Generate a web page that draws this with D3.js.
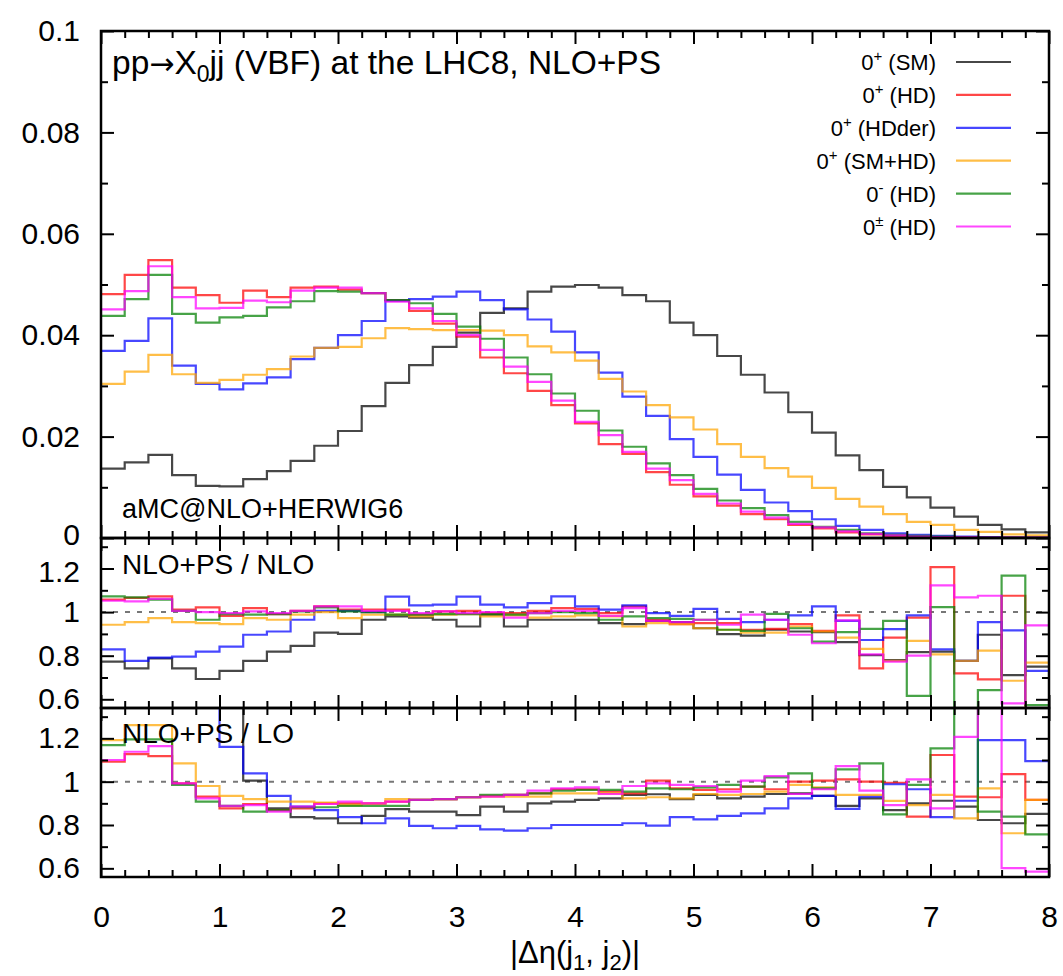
<!DOCTYPE html>
<html>
<head>
<meta charset="utf-8">
<script src="https://cdn.jsdelivr.net/npm/d3@7"></script>
<style>
  body { margin: 0; background: #fff; }
  text { font-family: "Liberation Sans", Arial, Helvetica, sans-serif; fill: #000; }
</style>
</head>
<body>
<div id="chart-area"></div>
<script>
// 40 bins of width 0.2 in |Δη(j1,j2)|
const binLow = d3.range(40).map(i => i * 0.2);

// normalised distributions (top panel)
const smDist    = [0.0137,0.0149,0.0164,0.0124,0.0103,0.0102,0.0116,0.0132,0.0152,0.0182,0.0211,0.0260,0.0306,0.0341,0.0377,0.0405,0.0444,0.0453,0.0486,0.0496,
                   0.0499,0.0494,0.0479,0.0467,0.0425,0.0400,0.0359,0.0322,0.0287,0.0248,0.0208,0.0163,0.0134,0.0101,0.0080,0.0060,0.0042,0.0026,0.0017,0.0011];
const hdDist    = [0.0481,0.0519,0.0548,0.0494,0.0479,0.0464,0.0488,0.0475,0.0494,0.0496,0.0490,0.0483,0.0469,0.0448,0.0423,0.0397,0.0356,0.0325,0.0290,0.0262,
                   0.0226,0.0185,0.0166,0.0130,0.0105,0.0082,0.0064,0.0047,0.0037,0.0026,0.0019,0.0011,0.0007,0.0004,0.0003,0.0002,0.0001,0.0001,0.0001,0.0001];
const hdderDist = [0.0369,0.0389,0.0433,0.0340,0.0304,0.0293,0.0305,0.0317,0.0353,0.0375,0.0400,0.0428,0.0468,0.0471,0.0476,0.0486,0.0469,0.0451,0.0431,0.0407,
                   0.0366,0.0326,0.0279,0.0241,0.0195,0.0160,0.0125,0.0095,0.0070,0.0053,0.0037,0.0024,0.0016,0.0009,0.0006,0.0004,0.0003,0.0002,0.0001,0.0001];
const smhdDist  = [0.0304,0.0328,0.0361,0.0323,0.0306,0.0312,0.0322,0.0333,0.0358,0.0375,0.0377,0.0394,0.0414,0.0412,0.0410,0.0410,0.0409,0.0400,0.0378,0.0366,
                   0.0350,0.0314,0.0289,0.0262,0.0238,0.0214,0.0185,0.0160,0.0138,0.0121,0.0099,0.0077,0.0062,0.0047,0.0032,0.0026,0.0016,0.0012,0.0007,0.0005];
const minusDist = [0.0438,0.0471,0.0519,0.0442,0.0425,0.0435,0.0438,0.0455,0.0467,0.0487,0.0486,0.0483,0.0469,0.0463,0.0442,0.0417,0.0393,0.0356,0.0323,0.0285,
                   0.0251,0.0212,0.0180,0.0147,0.0124,0.0097,0.0074,0.0059,0.0045,0.0032,0.0022,0.0016,0.0009,0.0006,0.0004,0.0003,0.0002,0.0001,0.0001,0.0001];
const mixDist   = [0.0451,0.0487,0.0536,0.0475,0.0453,0.0454,0.0468,0.0465,0.0488,0.0494,0.0494,0.0483,0.0466,0.0453,0.0428,0.0400,0.0371,0.0338,0.0308,0.0271,
                   0.0229,0.0203,0.0170,0.0137,0.0114,0.0087,0.0068,0.0052,0.0040,0.0028,0.0021,0.0013,0.0008,0.0005,0.0003,0.0002,0.0002,0.0001,0.0001,0.0001];

// NLO+PS / NLO (middle panel)
const smNLO    = [0.773,0.742,0.788,0.742,0.693,0.730,0.776,0.819,0.845,0.906,0.900,0.965,0.980,0.975,0.965,0.934,0.988,0.934,0.965,0.965,
                  0.965,0.949,0.945,0.960,0.954,0.926,0.899,0.892,0.919,0.911,0.908,0.862,0.803,0.780,0.816,0.819,0.776,0.896,0.711,0.750];
const hdNLO    = [1.057,1.065,1.072,1.011,1.022,0.983,1.018,0.991,1.006,1.026,1.011,1.011,1.011,0.988,1.003,1.006,0.995,0.995,1.006,1.018,
                  1.015,0.995,1.026,0.965,0.945,0.949,0.949,0.919,0.923,0.945,0.914,0.985,0.742,0.883,0.975,1.206,0.719,0.691,1.075,0.500];
const hdderNLO = [0.829,0.776,0.791,0.796,0.819,0.842,0.896,0.911,0.965,1.006,1.006,1.000,1.071,1.031,1.034,1.071,1.034,1.022,1.041,1.072,
                  1.026,1.011,1.031,0.995,0.983,1.015,0.969,0.954,0.965,0.985,1.026,0.960,0.872,0.922,0.985,0.829,0.776,0.954,0.916,0.730];
const smhdNLO  = [0.942,0.954,0.972,0.954,0.949,0.945,0.972,0.965,0.988,1.000,0.972,0.988,0.988,0.980,0.988,0.991,0.980,0.985,0.975,0.980,
                  0.985,0.980,0.934,0.949,0.945,0.926,0.919,0.906,0.906,0.934,0.911,0.883,0.831,0.776,0.868,0.806,0.776,0.823,0.685,0.768];
const minusNLO = [1.072,1.068,1.057,1.006,0.965,0.991,0.988,0.991,1.003,1.022,1.003,1.000,0.988,0.988,0.991,0.991,0.991,0.988,0.995,1.000,
                  0.995,0.965,0.980,0.972,0.969,0.965,0.919,0.914,0.992,0.926,0.865,0.908,0.923,0.960,0.616,1.023,0.500,0.642,1.167,0.573];
const mixNLO   = [1.052,1.049,1.061,1.006,1.000,0.995,1.003,0.995,1.006,1.026,1.026,1.006,1.006,0.995,1.003,0.995,1.000,0.975,0.995,1.006,
                  1.006,0.983,1.018,0.960,0.954,0.965,0.942,0.988,0.965,0.896,0.857,0.962,0.806,0.773,0.800,1.123,1.068,1.075,0.581,0.939];

// NLO+PS / LO (bottom panel)
const smLO    = [1.450,1.450,1.450,1.450,1.450,1.450,1.005,0.877,0.836,0.831,0.808,0.842,0.873,0.862,0.862,0.846,0.885,0.862,0.900,0.908,
                 0.916,0.923,0.939,0.942,0.919,0.939,0.923,0.931,0.943,0.946,0.934,0.888,0.923,0.869,0.900,0.912,0.885,0.823,0.808,0.851];
const hdLO    = [1.092,1.127,1.118,0.992,0.931,0.877,0.897,0.869,0.877,0.900,0.900,0.900,0.908,0.916,0.919,0.928,0.934,0.939,0.946,0.965,
                 0.965,0.954,0.946,1.005,0.969,0.962,0.965,0.977,0.965,1.000,1.005,1.011,1.000,0.995,0.839,1.123,0.931,0.928,1.035,0.916];
const hdderLO = [1.450,1.450,1.450,1.450,1.450,1.161,1.038,0.934,0.885,0.869,0.836,0.808,0.831,0.796,0.785,0.796,0.780,0.774,0.785,0.800,
                 0.800,0.800,0.808,0.797,0.836,0.826,0.842,0.854,0.877,0.923,0.934,0.874,0.931,0.988,0.965,0.836,0.912,1.192,1.192,1.095];
const smhdLO  = [1.192,1.261,1.261,1.084,0.980,0.934,0.919,0.908,0.908,0.903,0.892,0.897,0.919,0.916,0.919,0.928,0.931,0.931,0.931,0.946,
                 0.946,0.946,0.923,0.928,0.923,0.943,0.939,0.943,0.954,0.985,0.974,0.939,0.939,0.911,0.892,0.939,0.831,0.969,0.762,0.916];
const minusLO = [1.169,1.195,1.195,0.985,0.908,0.888,0.862,0.869,0.882,0.882,0.888,0.888,0.888,0.916,0.919,0.928,0.939,0.939,0.946,0.959,
                 0.962,0.962,0.954,0.969,0.965,0.974,0.985,0.977,1.020,1.038,0.969,1.057,1.084,0.849,0.985,1.154,1.450,0.862,0.839,0.757];
const mixLO   = [1.100,1.138,1.164,0.992,0.923,0.888,0.892,0.862,0.885,0.897,0.908,0.900,0.908,0.916,0.919,0.928,0.931,0.939,0.959,0.969,
                 0.974,0.943,0.980,0.992,0.985,0.980,0.954,1.005,1.026,0.943,0.965,1.072,0.959,0.892,1.011,0.877,1.207,1.450,0.601,0.585];

const seriesNames = [["0", "+", " (SM)"], ["0", "+", " (HD)"], ["0", "+", " (HDder)"],
                     ["0", "+", " (SM+HD)"], ["0", "-", " (HD)"], ["0", "±", " (HD)"]];
const seriesColors = ["#000000", "#ff0000", "#0000ff", "#ffa500", "#008000", "#ff00ff"];

const xTickValues = [0, 1, 2, 3, 4, 5, 6, 7, 8];
const topTickValues = [0, 0.02, 0.04, 0.06, 0.08, 0.1];
const ratioTickValues = [0.6, 0.8, 1, 1.2];

const svg = d3.select("#chart-area").append("svg")
    .attr("width", 1063)
    .attr("height", 976);

const xScale = d3.scaleLinear().domain([0, 8]).range([101, 1049]);
const panels = [
    { id: "top", y: d3.scaleLinear().domain([0, 0.1]).range([538, 31]),
      series: [smDist, hdDist, hdderDist, smhdDist, minusDist, mixDist],
      major: topTickValues, minor: [0.01, 0.03, 0.05, 0.07, 0.09] },
    { id: "mid", y: d3.scaleLinear().domain([0.56, 1.34]).range([708, 538]),
      series: [smNLO, hdNLO, hdderNLO, smhdNLO, minusNLO, mixNLO],
      major: ratioTickValues, minor: [0.7, 0.9, 1.1, 1.3], ref: 1 },
    { id: "bot", y: d3.scaleLinear().domain([0.56, 1.34]).range([877, 708]),
      series: [smLO, hdLO, hdderLO, smhdLO, minusLO, mixLO],
      major: ratioTickValues, minor: [0.7, 0.9, 1.1, 1.3], ref: 1 }
];

const xMinor = d3.range(41).map(i => i * 0.2).filter(v => Math.abs(v - Math.round(v)) > 1e-6);
const defs = svg.append("defs");
const x0 = xScale.range()[0], x1 = xScale.range()[1];

panels.forEach((p, pi) => {
    const yTop = p.y.range()[1], yBottom = p.y.range()[0];

    defs.append("clipPath").attr("id", "clip-" + p.id)
        .append("rect")
        .attr("x", x0).attr("y", yTop)
        .attr("width", x1 - x0).attr("height", yBottom - yTop);

    const g = svg.append("g").attr("clip-path", `url(#clip-${p.id})`);

    if (p.ref !== undefined) {
        g.append("line")
            .attr("x1", x0).attr("x2", x1)
            .attr("y1", p.y(p.ref)).attr("y2", p.y(p.ref))
            .attr("stroke", "#777")
            .attr("stroke-width", 2)
            .attr("stroke-dasharray", "5,7");
    }

    const line = d3.line()
        .x(d => xScale(d[0]))
        .y(d => p.y(d[1]))
        .curve(d3.curveStepAfter);

    p.series.forEach((vals, si) => {
        const pts = vals.map((v, i) => [binLow[i], v]);
        pts.push([8, vals[vals.length - 1]]);
        g.append("path")
            .attr("d", line(pts))
            .attr("fill", "none")
            .attr("stroke", seriesColors[si])
            .attr("stroke-opacity", 0.72)
            .attr("stroke-width", 2.2);
    });

    // ticks, all pointing inwards
    const tickGroup = (axis, transform) => svg.append("g")
        .attr("transform", transform)
        .call(axis)
        .call(a => a.select(".domain").remove())
        .call(a => a.selectAll(".tick line").attr("stroke", "#000").attr("stroke-width", 2));

    tickGroup(d3.axisBottom(xScale).tickValues(xMinor).tickSize(-7).tickFormat(""), `translate(0,${yBottom})`);
    tickGroup(d3.axisTop(xScale).tickValues(xMinor).tickSize(-7).tickFormat(""), `translate(0,${yTop})`);
    tickGroup(d3.axisTop(xScale).tickValues(xTickValues).tickSize(-13).tickFormat(""), `translate(0,${yTop})`);
    const bottomMajor = d3.axisBottom(xScale).tickValues(xTickValues).tickSize(-13);
    if (pi === panels.length - 1) {
        bottomMajor.tickPadding(29).tickFormat(d3.format("d"));
    } else {
        bottomMajor.tickFormat("");
    }
    const bx = tickGroup(bottomMajor, `translate(0,${yBottom})`);
    bx.selectAll("text").attr("font-size", 30).attr("font-family", null);

    tickGroup(d3.axisLeft(p.y).tickValues(p.minor).tickSize(-7).tickFormat(""), `translate(${x0},0)`);
    tickGroup(d3.axisRight(p.y).tickValues(p.minor).tickSize(-7).tickFormat(""), `translate(${x1},0)`);
    tickGroup(d3.axisRight(p.y).tickValues(p.major).tickSize(-13).tickFormat(""), `translate(${x1},0)`);
    const leftMajor = tickGroup(
        d3.axisLeft(p.y).tickValues(p.major).tickSize(-13).tickPadding(21).tickFormat(d => d3.format("")(+d.toFixed(2))),
        `translate(${x0},0)`);
    leftMajor.selectAll("text").attr("font-size", 30).attr("font-family", null);
    // the "0" of the top panel sits right on the panel boundary; lift it a little
    if (pi === 0) leftMajor.selectAll("text").filter(d => d === 0).attr("dy", "0.2em");
    if (pi === 1) leftMajor.selectAll("text").filter(d => d === 1.2).attr("dy", "0.42em");
});

// frames drawn last so they sit on top of the curves
panels.forEach(p => {
    const yTop = p.y.range()[1], yBottom = p.y.range()[0];
    svg.append("rect")
        .attr("x", x0).attr("y", yTop)
        .attr("width", x1 - x0).attr("height", yBottom - yTop)
        .attr("fill", "none")
        .attr("stroke", "#000")
        .attr("stroke-width", 2.5);
});

// title
const title = svg.append("text").attr("x", 112).attr("y", 74).attr("font-size", 33.5);
title.append("tspan").text("pp");
title.append("tspan").attr("font-family", "DejaVu Sans").attr("font-size", 30).text("\u2192");
title.append("tspan").text("X");
title.append("tspan").attr("dy", 8).attr("font-size", 23).text("0");
title.append("tspan").attr("dy", -8).text("jj (VBF) at the LHC8, NLO+PS");

// panel labels
svg.append("text").attr("x", 122).attr("y", 518).attr("font-size", 27).text("aMC@NLO+HERWIG6");
svg.append("text").attr("x", 122).attr("y", 574).attr("font-size", 28).text("NLO+PS / NLO");
svg.append("text").attr("x", 122).attr("y", 743).attr("font-size", 28).text("NLO+PS / LO");

// x axis title
const xt = svg.append("text").attr("x", 575).attr("y", 963).attr("font-size", 31).attr("text-anchor", "middle");
xt.append("tspan").text("|\u0394\u03b7(j");
xt.append("tspan").attr("dy", 7).attr("font-size", 22).text("1");
xt.append("tspan").attr("dy", -7).text(", j");
xt.append("tspan").attr("dy", 7).attr("font-size", 22).text("2");
xt.append("tspan").attr("dy", -7).text(")|");

// legend
const legend = svg.append("g").attr("class", "legend");
const rows = legend.selectAll(".legend-row")
    .data(seriesNames)
    .enter().append("g")
    .attr("class", "legend-row")
    .attr("transform", (d, i) => `translate(0, ${62 + i * 32.9})`);

rows.append("line")
    .attr("x1", 956).attr("x2", 1011)
    .attr("stroke", (d, i) => seriesColors[i])
    .attr("stroke-opacity", 0.72)
    .attr("stroke-width", 2.2);

const lt = rows.append("text")
    .attr("x", 936).attr("y", 8)
    .attr("text-anchor", "end")
    .attr("font-size", 22);
lt.append("tspan").text(d => d[0]);
lt.append("tspan").attr("dy", -9).attr("font-size", 15).text(d => d[1]);
lt.append("tspan").attr("dy", 9).text(d => d[2]);
</script>
</body>
</html>
